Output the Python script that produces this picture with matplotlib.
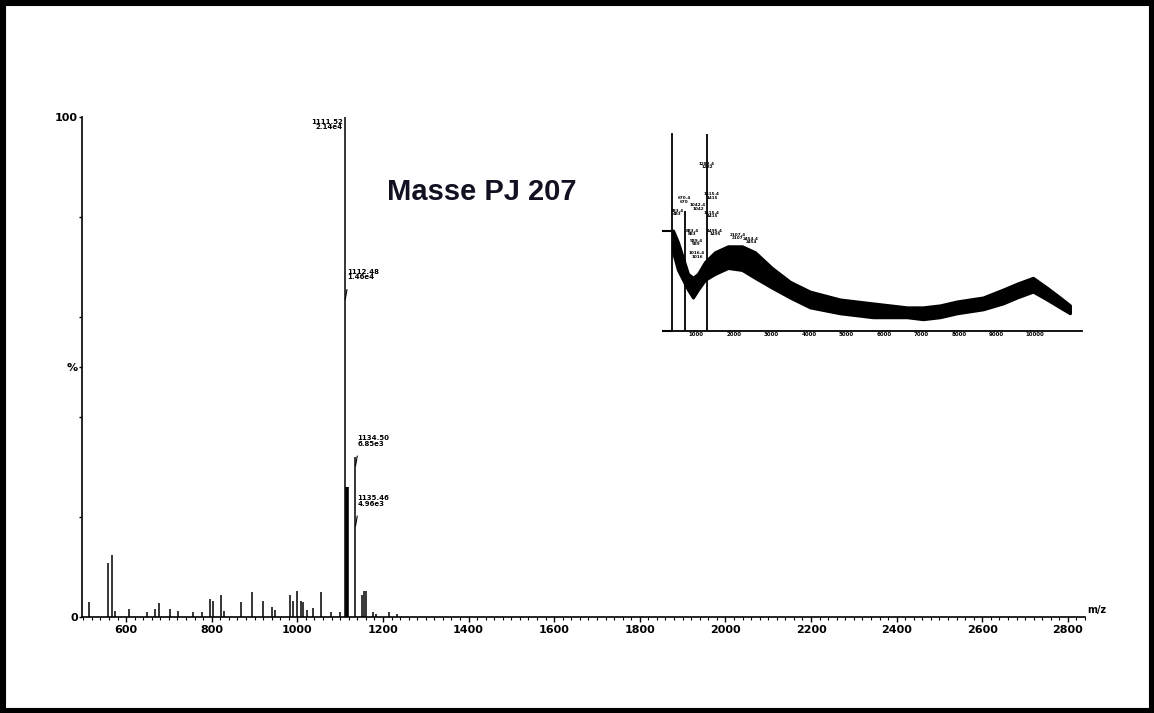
import numpy as np
import matplotlib.pyplot as plt
from matplotlib.patches import Rectangle

# main spectrum: m/z and relative intensity (%)
mz = [513, 558, 567, 574, 607, 649, 668, 677, 703, 721, 756, 777, 796, 803,
      822, 829, 868, 894, 920, 941, 948, 983, 990, 999, 1009, 1013, 1023, 1037,
      1055, 1079, 1100, 1111, 1135, 1151, 1156, 1161, 1177, 1184, 1214, 1233]
inten = [3.1, 10.8, 12.4, 1.3, 1.7, 1.0, 1.7, 2.8, 1.7, 1.3, 1.0, 1.1, 3.7, 3.3,
         4.5, 1.3, 3.0, 5.0, 3.3, 2.0, 1.5, 4.5, 3.3, 5.3, 3.3, 3.0, 1.5, 1.8,
         5.0, 1.1, 1.0, 100.0, 32.0, 4.5, 5.3, 5.3, 1.0, 0.7, 1.1, 0.7]
thick_mz = [1116]
thick_int = [26.0]

# peak labels (m/z, label height %, text)
lab_mz = [1111, 1111, 1135, 1135]
lab_y = [98.5, 68.5, 35.2, 23.2]
lab_txt = ['1111.52\n2.14e4', '1112.48\n1.46e4', '1134.50\n6.85e3', '1135.46\n4.96e3']

xticks = [600, 800, 1000, 1200, 1400, 1600, 1800, 2000, 2200, 2400, 2600, 2800]

# inset: noisy envelope
ins_x = [377, 510, 776, 909, 1042, 1229, 1495, 1841, 2214, 2560, 3013, 3492,
         4025, 4824, 5703, 6608, 7034, 7487, 7940, 8632, 9165, 9538, 9964,
         10336, 10683, 10949]
ins_hi = [51, 45, 29, 27, 29, 35, 40, 43, 43, 40, 32, 25, 20, 16, 14, 12, 12,
          13, 15, 17, 21, 24, 27, 22, 17, 13]
ins_lo = [40, 31, 21, 17, 21, 26, 29, 32, 31, 27, 22, 17, 12, 9, 7, 7, 6, 7,
          9, 11, 14, 17, 20, 16, 12, 9]
ins_spk_x = [696, 1282]
ins_spk_y = [61, 100]
ins_lab_x = [1282, 670, 1415, 1042, 1415, 483, 883, 1495, 989, 1016, 2107, 2454]
ins_lab_y = [84, 66.5, 68.5, 63, 59, 60, 50, 50, 45, 38.5, 48, 46]
ins_ticks = [1000, 2000, 3000, 4000, 5000, 6000, 7000, 8000, 9000, 10000]

fig = plt.figure(figsize=(11.54, 7.13), dpi=100)
W, H = 1154, 713

ax = fig.add_axes([82 / W, (H - 617) / H, (1085 - 82) / W, 500 / H])
ax.vlines(mz, 0, inten, colors='black', lw=1.1)
ax.vlines(thick_mz, 0, thick_int, colors='black', lw=2.6)
ax.set_xlim(497, 2840)
ax.set_ylim(0, 100)
for s in ['top', 'right']:
    ax.spines[s].set_visible(False)
for s in ['left', 'bottom']:
    ax.spines[s].set_linewidth(1.2)
ax.set_xticks(xticks)
ax.set_xticks(np.arange(500, 2841, 20), minor=True)
ax.set_xticklabels([str(t) for t in xticks], fontsize=8, fontweight='bold')
ax.tick_params(axis='x', which='major', length=3.5, width=1.0, pad=2)
ax.tick_params(axis='x', which='minor', length=2, width=0.8)
ax.set_yticks([0, 20, 40, 50, 60, 80, 100])
ax.set_yticklabels(['0', '', '', '%', '', '', '100'], fontsize=8,
                   fontweight='bold')
ax.tick_params(axis='y', length=2, width=1.0, pad=1)
ax.text(2845, 0.5, 'm/z', fontsize=7, fontweight='bold', ha='left', va='bottom')

for m, y, t in zip(lab_mz, lab_y, lab_txt):
    if m == 1111 and y > 90:
        ax.text(m - 5, y, t, fontsize=5, fontweight='bold', ha='right',
                va='center', linespacing=0.9)
    else:
        ax.text(m + 6, y, t, fontsize=5, fontweight='bold', ha='left',
                va='center', linespacing=0.9)
        ax.annotate('', xy=(m + 1, y - 5), xytext=(m + 5, y - 3),
                    arrowprops=dict(arrowstyle='-', lw=0.8, color='black',
                                    shrinkA=0, shrinkB=0))

fig.text(482 / W, 1 - 192 / H, 'Masse PJ 207', fontsize=21, fontweight='bold',
         family='Liberation Sans', color='#111122', ha='center', va='center')

# inset
ax2 = fig.add_axes([672 / W, (H - 331) / H, (1082 - 672) / W, 197 / H])
ax2.fill_between(ins_x, ins_lo, ins_hi, color='black', lw=2.2,
                 edgecolor='black')
ax2.vlines(ins_spk_x, 0, ins_spk_y, colors='black', lw=1.3)
for x, y in zip(ins_lab_x, ins_lab_y):
    ax2.text(x, y, '%d.4\n%d' % (x, x), fontsize=3, fontweight='bold',
             ha='center', va='center', linespacing=0.8)
ax2.set_xlim(350, 11270)
ax2.set_ylim(0, 100)
for s in ['top', 'right']:
    ax2.spines[s].set_visible(False)
for s in ['left', 'bottom']:
    ax2.spines[s].set_linewidth(1.3)
ax2.set_xticks(ins_ticks)
ax2.set_xticklabels([str(t) for t in ins_ticks], fontsize=4,
                    fontweight='bold')
ax2.tick_params(axis='x', length=0, pad=1)
ax2.set_yticks([0, 51])
ax2.set_yticklabels(['', ''])
ax2.tick_params(axis='y', length=7, width=1.5)

# outer frame
fig.patches.append(Rectangle((0, 0), 1, 1, transform=fig.transFigure,
                             fill=False, edgecolor='black', lw=8))

fig.savefig('out.png', dpi=100)
